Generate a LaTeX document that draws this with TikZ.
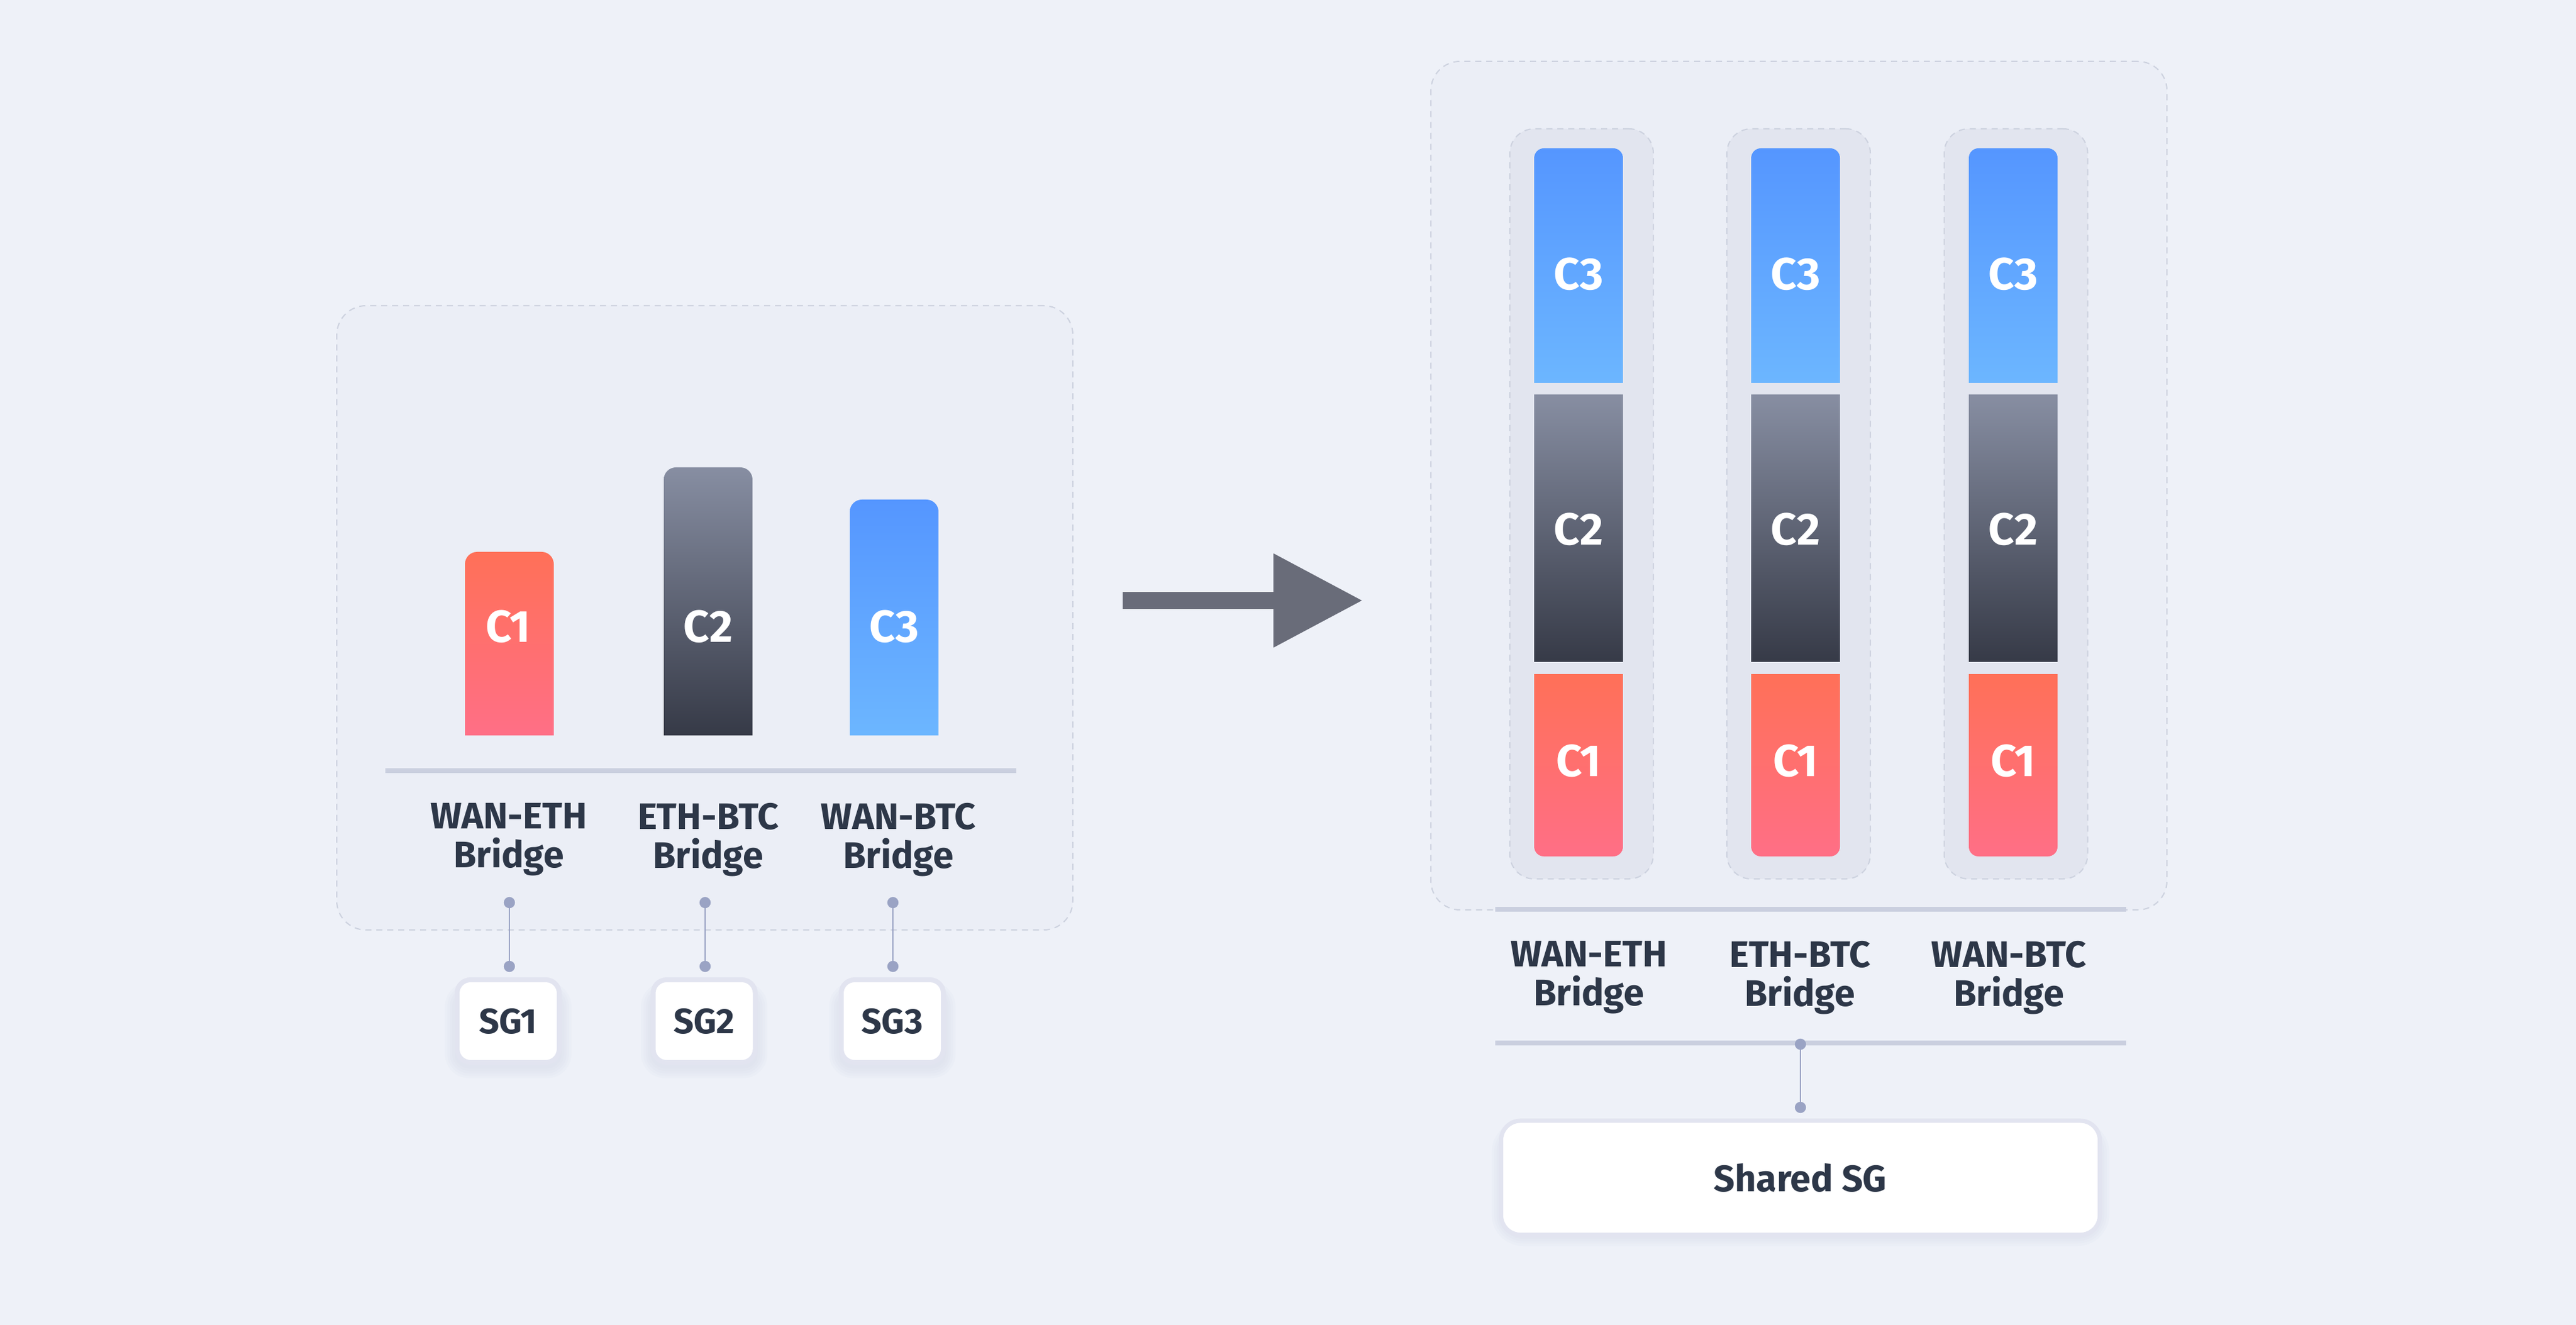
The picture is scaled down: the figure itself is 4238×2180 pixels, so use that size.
\documentclass[tikz,border=0pt]{standalone}
\usepackage{fontspec}
\setmainfont{Fira Sans}
\usetikzlibrary{arrows.meta}
\definecolor{bgc}{HTML}{EEF1F8}
\definecolor{panelfill}{HTML}{EBEEF6}
\definecolor{panelline}{HTML}{CDD2DF}
\definecolor{colfill}{HTML}{E2E5EF}
\definecolor{txt}{HTML}{2D3748}
\definecolor{axisc}{HTML}{CACFDF}
\definecolor{dotc}{HTML}{9AA3C4}
\definecolor{arrowc}{HTML}{696C79}
\definecolor{ringc}{HTML}{E2E4F0}
\definecolor{shadowc}{HTML}{D5D9E8}
\definecolor{redA}{HTML}{FF7058}
\definecolor{redB}{HTML}{FF6F86}
\definecolor{grayA}{HTML}{878EA2}
\definecolor{grayM}{HTML}{666D80}
\definecolor{grayB}{HTML}{363A47}
\definecolor{blueA}{HTML}{5596FF}
\definecolor{blueB}{HTML}{6CB6FF}
\begin{document}
\begin{tikzpicture}[x=0.25pt,y=-0.25pt,
  panelbox/.style={draw=panelline, fill=panelfill, line width=0.5pt, dash pattern=on 2.5pt off 2pt, rounded corners=12pt, inner sep=0, outer sep=0},
  colbox/.style={draw=panelline, fill=colfill, line width=0.5pt, dash pattern=on 2.5pt off 2pt, rounded corners=10pt, inner sep=0, minimum width=59pt, minimum height=308.5pt},
  barlabel/.style={text=white, font=\fontsize{18.5}{20}\selectfont\bfseries, inner sep=0},
  bridgelabel/.style={text=txt, font=\fontsize{15.2}{15.8}\selectfont\bfseries, align=center, inner sep=0, anchor=north},
  axisline/.style={draw=axisc, line width=2pt},
  dotnode/.style={circle, fill=dotc, inner sep=0, minimum size=4.6pt},
  linkline/.style={draw=dotc, line width=0.5pt},
  sgbox/.style={draw=ringc, line width=2pt, fill=white, rounded corners=5.5pt, minimum width=42pt, minimum height=34pt, inner sep=0, text=txt, font=\fontsize{14.5}{16}\selectfont\bfseries},
  softshadow/.style={fill=shadowc, opacity=0.12},
  bigarrow/.style={draw=arrowc, line width=7pt, -{Triangle[length=36.75pt,width=36.75pt]}}
]
\fill[bgc] (0,0) rectangle (4238,2180);
\useasboundingbox (0,0) rectangle (4238,2180);

% ---------------- left panel ----------------
\node[panelbox, minimum width=302.75pt, minimum height=256.75pt] (lpanel) at (1159.5,1016.5) {};

\begin{scope}
  \clip[rounded corners=5pt] (765,908) rectangle (911,1260);
  \shade[top color=redA, bottom color=redB] (765,908) rectangle (911,1209);
\end{scope}
\begin{scope}
  \clip[rounded corners=5pt] (1092,769) rectangle (1238,1260);
  \shade[top color=grayA, middle color=grayM, bottom color=grayB] (1092,769) rectangle (1238,1209);
\end{scope}
\begin{scope}
  \clip[rounded corners=5pt] (1398,822) rectangle (1544,1260);
  \shade[top color=blueA, bottom color=blueB] (1398,822) rectangle (1544,1209);
\end{scope}
\node[barlabel] (lc1) at (836,1031) {C1};
\node[barlabel] (lc2) at (1165,1031) {C2};
\node[barlabel] (lc3) at (1471,1031) {C3};

\coordinate (laxisL) at (634,1268);
\coordinate (laxisR) at (1672,1268);
\draw[axisline] (laxisL) -- (laxisR);

\node[bridgelabel] (lb1) at (837,1321) {WAN-ETH\\Bridge};
\node[bridgelabel] (lb2) at (1165,1321) {ETH-BTC\\Bridge};
\node[bridgelabel] (lb3) at (1478,1321) {WAN-BTC\\Bridge};

% SG boxes with soft shadows
\foreach \cx in {836,1158.5,1468}{
  \foreach \g in {0,4,8,12,16}{
    \fill[softshadow, rounded corners={(6+\g/4)*1pt}] (\cx-88-\g,1618-\g+14) rectangle (\cx+88+\g,1752+\g+6);
  }
}
\node[sgbox] (sg1) at (836,1680) {SG1};
\node[sgbox] (sg2) at (1158.5,1680) {SG2};
\node[sgbox] (sg3) at (1468,1680) {SG3};

\node[dotnode] (d1a) at (838,1485) {};
\node[dotnode] (d1b) at (838,1590) {};
\node[dotnode] (d2a) at (1160,1485) {};
\node[dotnode] (d2b) at (1160,1590) {};
\node[dotnode] (d3a) at (1469,1485) {};
\node[dotnode] (d3b) at (1469,1590) {};
\draw[linkline] (d1a.center) -- (d1b.center);
\draw[linkline] (d2a.center) -- (d2b.center);
\draw[linkline] (d3a.center) -- (d3b.center);

% ---------------- arrow ----------------
\coordinate (arrS) at (1847,988);
\coordinate (arrE) at (2242,988);
\draw[bigarrow] (arrS) -- (arrE);

% ---------------- right panel ----------------
\node[panelbox, minimum width=302.75pt, minimum height=349pt] (rpanel) at (2959.5,799) {};

\node[colbox] (col1) at (2602,829) {};
\node[colbox] (col2) at (2959,829) {};
\node[colbox] (col3) at (3316.5,829) {};

% column 1
\begin{scope}
  \clip[rounded corners=4pt] (2524,244) rectangle (2670,680);
  \shade[top color=blueA, bottom color=blueB] (2524,244) rectangle (2670,630);
\end{scope}
\shade[top color=grayA, middle color=grayM, bottom color=grayB] (2524,650) rectangle (2670,1089);
\begin{scope}
  \clip[rounded corners=4pt] (2524,1060) rectangle (2670,1409);
  \shade[top color=redA, bottom color=redB] (2524,1109) rectangle (2670,1409);
\end{scope}
% column 2
\begin{scope}
  \clip[rounded corners=4pt] (2881,244) rectangle (3027,680);
  \shade[top color=blueA, bottom color=blueB] (2881,244) rectangle (3027,630);
\end{scope}
\shade[top color=grayA, middle color=grayM, bottom color=grayB] (2881,650) rectangle (3027,1089);
\begin{scope}
  \clip[rounded corners=4pt] (2881,1060) rectangle (3027,1409);
  \shade[top color=redA, bottom color=redB] (2881,1109) rectangle (3027,1409);
\end{scope}
% column 3
\begin{scope}
  \clip[rounded corners=4pt] (3239,244) rectangle (3385,680);
  \shade[top color=blueA, bottom color=blueB] (3239,244) rectangle (3385,630);
\end{scope}
\shade[top color=grayA, middle color=grayM, bottom color=grayB] (3239,650) rectangle (3385,1089);
\begin{scope}
  \clip[rounded corners=4pt] (3239,1060) rectangle (3385,1409);
  \shade[top color=redA, bottom color=redB] (3239,1109) rectangle (3385,1409);
\end{scope}

\node[barlabel] (r1c3) at (2597,451) {C3};
\node[barlabel] (r1c2) at (2597,871) {C2};
\node[barlabel] (r1c1) at (2597,1252) {C1};
\node[barlabel] (r2c3) at (2954,451) {C3};
\node[barlabel] (r2c2) at (2954,871) {C2};
\node[barlabel] (r2c1) at (2954,1252) {C1};
\node[barlabel] (r3c3) at (3312,451) {C3};
\node[barlabel] (r3c2) at (3312,871) {C2};
\node[barlabel] (r3c1) at (3312,1252) {C1};

\coordinate (raxisL) at (2460,1496);
\coordinate (raxisR) at (3498,1496);
\draw[axisline] (raxisL) -- (raxisR);

\node[bridgelabel] (rb1) at (2614,1548) {WAN-ETH\\Bridge};
\node[bridgelabel] (rb2) at (2961,1548) {ETH-BTC\\Bridge};
\node[bridgelabel] (rb3) at (3305,1548) {WAN-BTC\\Bridge};

\coordinate (raxis2L) at (2460,1716);
\coordinate (raxis2R) at (3498,1716);
\draw[axisline] (raxis2L) -- (raxis2R);

\foreach \g in {0,4,8,12,16}{
  \fill[softshadow, rounded corners={(9+\g/4)*1pt}] (2470-\g,1846-\g+14) rectangle (3454+\g,2028+\g+6);
}
\node[sgbox, line width=1.75pt, rounded corners=8pt, minimum width=246.25pt, minimum height=46.9pt, font=\fontsize{15.2}{16}\selectfont\bfseries] (shared) at (2962,1937.75) {Shared SG};

\node[dotnode] (dsa) at (2962,1718) {};
\node[dotnode] (dsb) at (2962,1822) {};
\draw[linkline] (dsa.center) -- (dsb.center);
\end{tikzpicture}
\end{document}
